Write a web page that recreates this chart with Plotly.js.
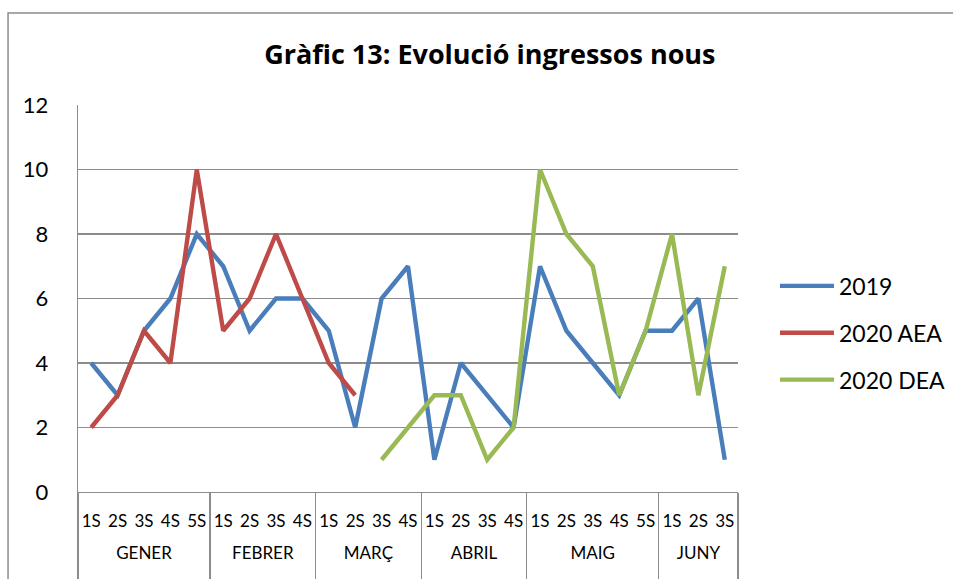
<!DOCTYPE html>
<html>
<head>
<meta charset="utf-8">
<script src="https://cdn.plot.ly/plotly-3.0.1.min.js"></script>
<style>
  html, body { margin: 0; padding: 0; background: #ffffff; }
  #chart { width: 953px; height: 579px; }
</style>
</head>
<body>
<div id="chart"></div>
<script>
// Month group labels (outer level) and week labels (inner level)
var months = ['GENER','GENER','GENER','GENER','GENER',
              'FEBRER','FEBRER','FEBRER','FEBRER',
              'MARÇ','MARÇ','MARÇ','MARÇ',
              'ABRIL','ABRIL','ABRIL','ABRIL',
              'MAIG','MAIG','MAIG','MAIG','MAIG',
              'JUNY','JUNY','JUNY'];
var weeks = ['1S','2S','3S','4S','5S',
             '1S','2S','3S','4S',
             '1S','2S','3S','4S',
             '1S','2S','3S','4S',
             '1S','2S','3S','4S','5S',
             '1S','2S','3S'];

// Series values
var s2019 = [4,3,5,6,8, 7,5,6,6, 5,2,6,7, 1,4,3,2, 7,5,4,3,5, 5,6,1];
var s2020AEA = [2,3,5,4,10, 5,6,8,6, 4,3,null,null, null,null,null,null, null,null,null,null,null, null,null,null];
var s2020DEA = [null,null,null,null,null, null,null,null,null, null,null,1,2, 3,3,1,2, 10,8,7,3,5, 8,3,7];

var seriesNames = ['2019', '2020 AEA', '2020 DEA'];
var seriesColors = ['#4A7EBB', '#BE4B48', '#98B954'];
var seriesData = [s2019, s2020AEA, s2020DEA];

var FONT = 'Lato, "Open Sans", sans-serif';
var GRID = '#8C8C8C';

// outer-level labels: a blank line above (to sit lower) and one below (so the
// group dividers run down to the bottom edge, like the reference)
var monthLabels = months.map(function (m) { return '<br>' + m + '<br>&nbsp;'; });

var traces = seriesData.map(function (vals, i) {
  return {
    type: 'scatter',
    mode: 'lines',
    name: seriesNames[i],
    legendgroup: 'g' + i,
    x: [monthLabels, weeks],
    y: vals,
    connectgaps: false,
    line: { color: seriesColors[i], width: 4.4, shape: 'linear' },
    hoverinfo: 'skip'
  };
});

var layout = {
  width: 953,
  height: 579,
  paper_bgcolor: '#ffffff',
  plot_bgcolor: '#ffffff',
  margin: { l: 78, r: 215, t: 105, b: 87, pad: 0 },
  title: {
    text: '<b>Gràfic 13: Evolució ingressos nous</b>',
    font: { family: '"Open Sans", Lato, sans-serif', size: 27, color: '#000000' },
    x: 0.514, xref: 'container', xanchor: 'center',
    y: 0.905, yref: 'container', yanchor: 'middle'
  },
  showlegend: true,
  legend: {
    xref: 'container', yref: 'container',
    x: 0.8132, xanchor: 'left',
    y: 0.425, yanchor: 'middle',
    font: { family: FONT, size: 23, color: '#000000' },
    tracegroupgap: 14,
    itemwidth: 54,
    bgcolor: 'rgba(0,0,0,0)'
  },
  xaxis: {
    type: 'multicategory',
    range: [-0.5, 24.5],
    showgrid: false,
    zeroline: false,
    showline: true,
    linecolor: GRID,
    linewidth: 1.3,
    ticks: '',
    tickangle: 0,
    ticklabelstandoff: 13,
    showdividers: true,
    dividercolor: GRID,
    dividerwidth: 1.3,
    tickfont: { family: FONT, size: 17, color: '#000000' },
    fixedrange: true
  },
  yaxis: {
    range: [0, 12],
    dtick: 2,
    tick0: 0,
    showgrid: true,
    gridcolor: GRID,
    gridwidth: 1.3,
    zeroline: false,
    showline: true,
    linecolor: GRID,
    linewidth: 1.3,
    ticks: '',
    ticklabelstandoff: 24,
    tickfont: { family: FONT, size: 22, color: '#000000' },
    fixedrange: true
  },
  shapes: [{
    type: 'rect',
    xref: 'paper', yref: 'paper',
    x0: -0.106, x1: 1.5,
    y0: -0.4, y1: 1.2377,
    line: { color: '#8C8C8C', width: 1.5 },
    fillcolor: 'rgba(0,0,0,0)',
    layer: 'below'
  }]
};

Plotly.newPlot('chart', traces, layout, { displayModeBar: false, staticPlot: true });
</script>
</body>
</html>
